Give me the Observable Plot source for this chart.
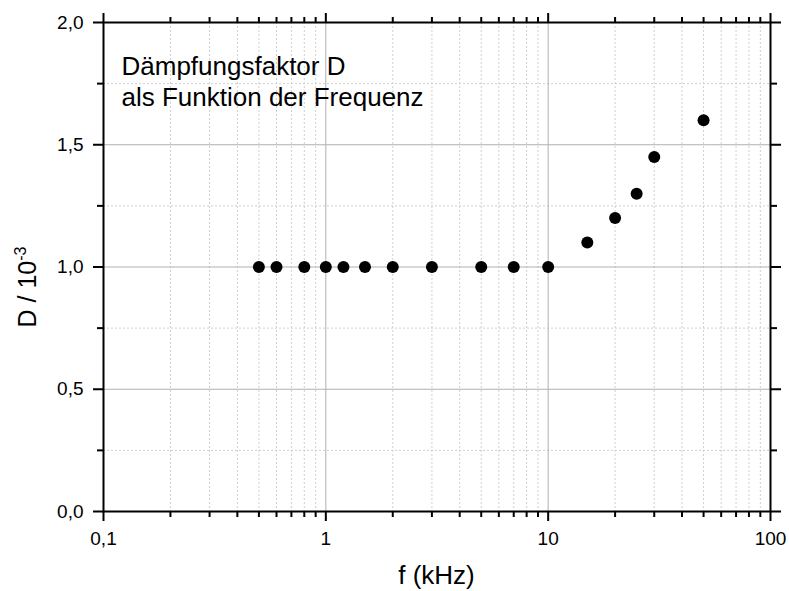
<!DOCTYPE html>
<html>
<head>
<meta charset="utf-8">
<script src="https://cdn.jsdelivr.net/npm/d3@7"></script>
<script src="https://cdn.jsdelivr.net/npm/@observablehq/plot@0.6"></script>
<style>
  html, body { margin: 0; padding: 0; background: #fff; }
  #chart svg { display: block; }
</style>
</head>
<body>
<div id="chart"></div>
<script>
// Data
const freq = [0.5, 0.6, 0.8, 1, 1.2, 1.5, 2, 3, 5, 7, 10, 15, 20, 25, 30, 50];
const damping = [1.0, 1.0, 1.0, 1.0, 1.0, 1.0, 1.0, 1.0, 1.0, 1.0, 1.0, 1.1, 1.2, 1.3, 1.45, 1.6];

// Ticks
const xTicks = [0.1, 1, 10, 100];
const xTickLabels = ["0,1", "1", "10", "100"];
const xMinorTicks = [0.2, 0.3, 0.4, 0.5, 0.6, 0.7, 0.8, 0.9,
                     2, 3, 4, 5, 6, 7, 8, 9,
                     20, 30, 40, 50, 60, 70, 80, 90];
const yTicks = [0, 0.5, 1.0, 1.5, 2.0];
const yTickLabels = ["0,0", "0,5", "1,0", "1,5", "2,0"];
const yMinorTicks = [0.25, 0.75, 1.25, 1.75];
const xGridMajor = [1, 10];
const yGridMajor = [0.5, 1.0, 1.5];

// Texts
const annotationLines = ["Dämpfungsfaktor D", "als Funktion der Frequenz"];
const xTitle = "f (kHz)";
const yTitleMain = "D / 10";
const yTitleExp = "-3";

const points = freq.map((f, i) => ({f, d: damping[i]}));
const FONT = "'Liberation Sans', Arial, Helvetica, sans-serif";

const plot = Plot.plot({
  width: 789,
  height: 591,
  marginLeft: 103,
  marginRight: 19,
  marginTop: 22,
  marginBottom: 80,
  style: {fontFamily: FONT, background: "#fff", color: "#000"},
  x: {type: "log", domain: [0.1, 100]},
  y: {domain: [0, 2]},
  marks: [
    // minor grid
    Plot.ruleX(xMinorTicks, {stroke: "#cfcfcf", strokeWidth: 1, strokeDasharray: "2,2"}),
    Plot.ruleY(yMinorTicks, {stroke: "#cfcfcf", strokeWidth: 1, strokeDasharray: "2,2"}),
    // major grid
    Plot.ruleX(xGridMajor, {stroke: "#b0b0b0", strokeWidth: 1}),
    Plot.ruleY(yGridMajor, {stroke: "#b0b0b0", strokeWidth: 1}),
    // bottom axis
    Plot.axisX({anchor: "bottom", ticks: xTicks, tickSize: 10, tickPadding: 10, strokeWidth: 2,
      tickFormat: d => xTickLabels[xTicks.indexOf(d)], fontSize: 19, label: null}),
    Plot.axisX({anchor: "bottom", ticks: xMinorTicks, tickSize: 6, strokeWidth: 2, fill: "none", label: null}),
    // top axis
    Plot.axisX({anchor: "top", ticks: xTicks, tickSize: 10, strokeWidth: 2, fill: "none", label: null}),
    Plot.axisX({anchor: "top", ticks: xMinorTicks, tickSize: 6, strokeWidth: 2, fill: "none", label: null}),
    // left axis
    Plot.axisY({anchor: "left", ticks: yTicks, tickSize: 10, tickPadding: 10, strokeWidth: 2,
      tickFormat: d => yTickLabels[yTicks.indexOf(d)], fontSize: 19, label: null}),
    Plot.axisY({anchor: "left", ticks: yMinorTicks, tickSize: 6, strokeWidth: 2, fill: "none", label: null}),
    // right axis
    Plot.axisY({anchor: "right", ticks: yTicks, tickSize: 10, strokeWidth: 2, fill: "none", label: null}),
    Plot.axisY({anchor: "right", ticks: yMinorTicks, tickSize: 6, strokeWidth: 2, fill: "none", label: null}),
    // frame
    Plot.frame({stroke: "#000", strokeWidth: 2}),
    // data
    Plot.dot(points, {x: "f", y: "d", r: 6, fill: "#000", stroke: "none"}),
    // annotation
    Plot.text([annotationLines.join("\n")], {
      frameAnchor: "top-left", dx: 18, dy: 30, textAnchor: "start", lineAnchor: "top",
      fontSize: 26, lineHeight: 31 / 26, fill: "#000"
    })
  ]
});

const svg = d3.select(plot);
// x title
svg.append("text")
  .attr("x", 436.5).attr("y", 584)
  .attr("text-anchor", "middle")
  .attr("font-family", FONT).attr("font-size", 26).attr("fill", "#000")
  .text(xTitle);
// y title with superscript
const yt = svg.append("text")
  .attr("transform", "translate(36,287) rotate(-90)")
  .attr("text-anchor", "middle")
  .attr("font-family", FONT).attr("font-size", 25).attr("fill", "#000");
yt.append("tspan").text(yTitleMain);
yt.append("tspan").attr("dy", -10).attr("font-size", 16).text(yTitleExp);

document.getElementById("chart").appendChild(plot);
</script>
</body>
</html>
